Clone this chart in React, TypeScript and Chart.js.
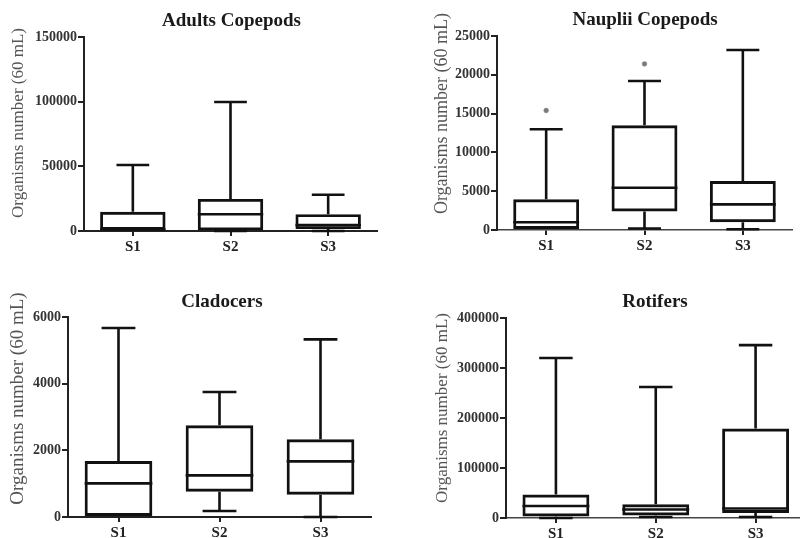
import React, { useEffect, useRef } from 'react';
import { Chart, registerables } from 'chart.js';

Chart.register(...registerables);

// ---------- data ----------
const categories = ['S1', 'S2', 'S3'];

const adultsMin = [0, 0, 0];
const adultsQ1 = [0, 500, 1500];
const adultsMedian = [1200, 12900, 4600];
const adultsQ3 = [14800, 24800, 13000];
const adultsMax = [51000, 99800, 28000];
const adultsOutliers: (number | null)[] = [null, null, null];

const naupliiMin = [0, 200, 100];
const naupliiQ1 = [0, 2400, 1000];
const naupliiMedian = [1000, 5450, 3300];
const naupliiQ3 = [3950, 13500, 6300];
const naupliiMax = [12980, 19200, 23200];
const naupliiOutliers: (number | null)[] = [15400, 21400, null];

const cladoMin = [0, 180, 0];
const cladoQ1 = [0, 760, 670];
const cladoMedian = [1010, 1250, 1670];
const cladoQ3 = [1680, 2750, 2330];
const cladoMax = [5670, 3750, 5330];
const cladoOutliers: (number | null)[] = [null, null, null];

const rotMin = [0, 2000, 2000];
const rotQ1 = [3000, 5000, 10000];
const rotMedian = [24000, 17000, 19000];
const rotQ3 = [47000, 27500, 179000];
const rotMax = [320000, 262000, 345800];
const rotOutliers: (number | null)[] = [null, null, null];

const yAxisTitle = 'Organisms number (60 mL)';

// ---------- plugins ----------
const boxWhiskerPlugin = {
  id: 'boxWhisker',
  afterDatasetsDraw(chart: any, _args: any, opts: any) {
    const { ctx } = chart;
    const y = chart.scales.y;
    const meta = chart.getDatasetMeta(0);
    const s = opts.stats;
    if (!s) return;
    ctx.save();
    ctx.strokeStyle = '#111';
    ctx.lineWidth = 2.6;
    ctx.lineCap = 'butt';
    meta.data.forEach((bar: any, i: number) => {
      const { x, width } = bar.getProps(['x', 'width'], true);
      const yMin = y.getPixelForValue(s.min[i]);
      const yQ1 = y.getPixelForValue(s.q1[i]);
      const yMed = y.getPixelForValue(s.median[i]);
      const yQ3 = y.getPixelForValue(s.q3[i]);
      const yMax = y.getPixelForValue(s.max[i]);
      const cap = width / 4;
      ctx.beginPath();
      // upper whisker
      ctx.moveTo(x, yQ3);
      ctx.lineTo(x, yMax);
      ctx.moveTo(x - cap, yMax);
      ctx.lineTo(x + cap, yMax);
      // lower whisker
      if (s.min[i] < s.q1[i]) {
        ctx.moveTo(x, yQ1);
        ctx.lineTo(x, yMin);
        ctx.moveTo(x - cap, yMin);
        ctx.lineTo(x + cap, yMin);
      }
      // median
      ctx.moveTo(x - width / 2, yMed);
      ctx.lineTo(x + width / 2, yMed);
      ctx.stroke();
    });
    ctx.restore();
  },
};

const panelTextPlugin = {
  id: 'panelText',
  afterDraw(chart: any, _args: any, opts: any) {
    const { ctx } = chart;
    ctx.save();
    ctx.textAlign = 'center';
    ctx.textBaseline = 'middle';
    ctx.fillStyle = '#1a1a1a';
    ctx.font = `bold ${opts.titleSize}px "Liberation Serif"`;
    ctx.fillText(opts.title, opts.titleX, opts.titleY);
    ctx.translate(opts.axisX, opts.axisY);
    ctx.rotate(-Math.PI / 2);
    ctx.fillStyle = '#555';
    ctx.font = `${opts.axisSize}px "Liberation Serif"`;
    ctx.fillText(opts.axisTitle, 0, 0);
    ctx.restore();
  },
};

// ---------- panel component ----------
type PanelProps = {
  title: string;
  min: number[];
  q1: number[];
  median: number[];
  q3: number[];
  max: number[];
  outliers: (number | null)[];
  yMax: number;
  step: number;
  layout: {
    left: number;
    top: number;
    width: number;
    height: number;
    yWidth: number;
    xHeight: number;
    padTop: number;
    padRight: number;
    titleX: number;
    titleY: number;
    titleSize: number;
    axisX: number;
    axisY: number;
    axisSize: number;
    dashed: boolean;
  };
};

function BoxPanel(p: PanelProps) {
  const ref = useRef<HTMLCanvasElement | null>(null);
  useEffect(() => {
    if (!ref.current) return;
    const L = p.layout;
    const tickFont = { family: '"Liberation Serif"', size: 14, weight: 'bold' as const };
    const chart = new Chart(ref.current, {
      type: 'bar',
      data: {
        labels: categories,
        datasets: [
          {
            type: 'bar',
            data: p.q1.map((v, i) => [v, p.q3[i]]) as any,
            backgroundColor: 'rgba(255,255,255,0)',
            borderColor: '#111',
            borderWidth: 2.9,
            borderSkipped: false,
            barPercentage: 0.67,
            categoryPercentage: 1,
            grouped: false,
          } as any,
          {
            type: 'line',
            data: p.outliers as any,
            showLine: false,
            pointStyle: 'circle',
            pointRadius: 2.4,
            backgroundColor: '#7a7a7a',
            borderColor: '#8a8a8a',
            borderWidth: 0.5,
          } as any,
        ],
      },
      options: {
        responsive: false,
        animation: false,
        devicePixelRatio: 1,
        layout: { padding: { left: 0, top: L.padTop, right: L.padRight, bottom: 0 } },
        plugins: {
          legend: { display: false },
          tooltip: { enabled: false },
          boxWhisker: { stats: { min: p.min, q1: p.q1, median: p.median, q3: p.q3, max: p.max } },
          panelText: {
            title: p.title,
            titleX: L.titleX,
            titleY: L.titleY,
            titleSize: L.titleSize,
            axisTitle: yAxisTitle,
            axisX: L.axisX,
            axisY: L.axisY,
            axisSize: L.axisSize,
          },
        } as any,
        scales: {
          x: {
            offset: true,
            ticks: { color: '#222', font: { family: '"Liberation Serif"', size: 15, weight: 'bold' }, padding: 2 },
            grid: {
              display: true,
              offset: false,
              drawOnChartArea: false,
              drawTicks: true,
              tickLength: 5,
              color: '#222',
              lineWidth: 2,
            },
            border: { display: true, color: L.dashed ? '#444' : '#222', width: L.dashed ? 1.5 : 2, dash: L.dashed ? [3, 2] : [] },
            afterFit: (s: any) => {
              s.height = L.xHeight;
            },
          },
          y: {
            min: 0,
            max: p.yMax,
            ticks: { stepSize: p.step, color: '#333', font: tickFont, padding: 1, callback: (v: any) => String(v) },
            grid: {
              display: true,
              drawOnChartArea: false,
              drawTicks: true,
              tickLength: 6,
              color: '#222',
              lineWidth: 2,
            },
            border: { display: true, color: '#222', width: 2 },
            afterFit: (s: any) => {
              s.width = L.yWidth;
            },
          },
        } as any,
      },
      plugins: [boxWhiskerPlugin, panelTextPlugin],
    });
    return () => chart.destroy();
  }, []);
  const L = p.layout;
  return (
    <canvas
      ref={ref}
      width={L.width}
      height={L.height}
      style={{ position: 'absolute', left: L.left, top: L.top, width: L.width, height: L.height }}
    />
  );
}

export default function App() {
  return (
    <div
      style={{
        position: 'fixed',
        left: 0,
        top: 0,
        width: 800,
        height: 538,
        overflow: 'hidden',
        background: '#fff',
      }}
    >
      <BoxPanel
        title="Adults Copepods"
        min={adultsMin}
        q1={adultsQ1}
        median={adultsMedian}
        q3={adultsQ3}
        max={adultsMax}
        outliers={adultsOutliers}
        yMax={150000}
        step={50000}
        layout={{
          left: 0, top: 0, width: 400, height: 262, yWidth: 84, xHeight: 31, padTop: 37, padRight: 23,
          titleX: 231.5, titleY: 21, titleSize: 19, axisX: 18.5, axisY: 123, axisSize: 17, dashed: false,
        }}
      />
      <BoxPanel
        title="Nauplii Copepods"
        min={naupliiMin}
        q1={naupliiQ1}
        median={naupliiMedian}
        q3={naupliiQ3}
        max={naupliiMax}
        outliers={naupliiOutliers}
        yMax={25000}
        step={5000}
        layout={{
          left: 400, top: 0, width: 400, height: 262, yWidth: 97, xHeight: 32, padTop: 36, padRight: 8,
          titleX: 245, titleY: 20, titleSize: 19, axisX: 42.5, axisY: 113.5, axisSize: 18, dashed: true,
        }}
      />
      <BoxPanel
        title="Cladocers"
        min={cladoMin}
        q1={cladoQ1}
        median={cladoMedian}
        q3={cladoQ3}
        max={cladoMax}
        outliers={cladoOutliers}
        yMax={6000}
        step={2000}
        layout={{
          left: 0, top: 270, width: 400, height: 268, yWidth: 68, xHeight: 21, padTop: 47, padRight: 29,
          titleX: 222, titleY: 32, titleSize: 19, axisX: 18.5, axisY: 128.5, axisSize: 19, dashed: false,
        }}
      />
      <BoxPanel
        title="Rotifers"
        min={rotMin}
        q1={rotQ1}
        median={rotMedian}
        q3={rotQ3}
        max={rotMax}
        outliers={rotOutliers}
        yMax={400000}
        step={100000}
        layout={{
          left: 400, top: 270, width: 410, height: 268, yWidth: 106, xHeight: 20, padTop: 48, padRight: 2,
          titleX: 255, titleY: 32, titleSize: 19, axisX: 42.5, axisY: 138, axisSize: 17, dashed: true,
        }}
      />
    </div>
  );
}
